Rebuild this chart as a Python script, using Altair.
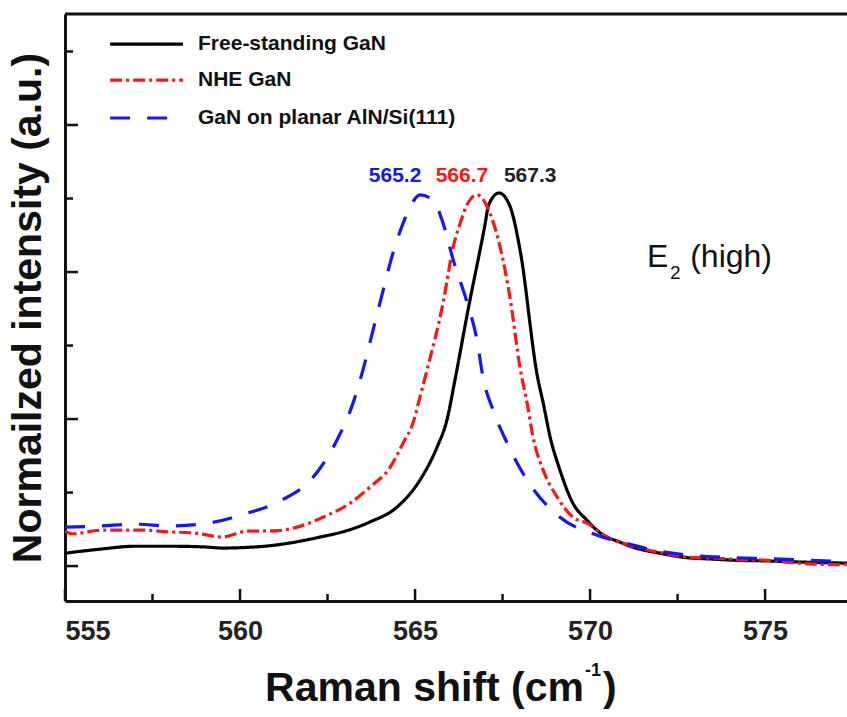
import altair as alt
import pandas as pd

# ---------------- data ----------------
series = ["Free-standing GaN", "NHE GaN", "GaN on planar AlN/Si(111)"]
colors = ["#000000", "#ff1414", "#1414ff"]
dashes = [[1, 0], [12, 4, 3, 4], [20, 17]]

x_free = [555, 556, 557, 558, 559, 559.5, 560, 561, 561.43, 562.29, 563, 563.71,
          564.49, 565.14, 565.63, 565.91, 566.14, 566.5, 567.0, 567.1, 567.4, 567.7,
          568.0, 568.5, 568.66, 568.86, 569.14, 569.51, 569.91, 570.29, 570.86,
          571.2, 572.0, 572.66, 573.5, 574.09, 575.06, 576.0, 577.34]
y_free = [0.035, 0.046, 0.054, 0.054, 0.052, 0.049, 0.050, 0.057, 0.063, 0.079, 0.095, 0.120,
          0.161, 0.234, 0.324, 0.397, 0.506, 0.690, 0.930, 0.982, 1.015, 0.982,
          0.860, 0.514, 0.444, 0.351, 0.261, 0.171, 0.125, 0.090, 0.065,
          0.052, 0.035, 0.024, 0.019, 0.016, 0.014, 0.011, 0.008]

x_nhe = [555, 555.2, 556.1, 557.1, 558.0, 558.7, 559.5, 560.2, 561.0, 561.63, 562.37,
         563.14, 563.71, 564.29, 564.66, 564.94, 565.14, 565.34, 565.8, 566.09, 566.29,
         566.51, 566.77, 567.14, 567.43, 567.71, 568.0, 568.2, 568.37, 568.66, 569.06,
         569.51, 569.91, 570.49, 571.2, 572.0, 572.7, 573.5, 574.2, 575.0, 575.7,
         576.3, 577.0, 577.34]
y_nhe = [0.095, 0.088, 0.098, 0.098, 0.093, 0.090, 0.079, 0.095, 0.096, 0.106, 0.133,
         0.171, 0.215, 0.269, 0.335, 0.389, 0.460, 0.533, 0.716, 0.868, 0.933,
         0.988, 1.010, 0.960, 0.868, 0.732, 0.539, 0.444, 0.351, 0.261, 0.188,
         0.133, 0.117, 0.079, 0.055, 0.037, 0.025, 0.022, 0.018, 0.016, 0.010,
         0.006, 0.004, 0.005]

x_planar = [555, 556, 557, 558, 559.1, 560.1, 561.14, 562.09, 562.77, 563.23, 563.51,
            563.8, 564.09, 564.37, 564.66, 564.86, 565.14, 565.51, 565.8, 566.09, 566.49,
            566.77, 566.94, 567.23, 567.63, 568.2, 569.14, 570.2, 571.2, 572.0, 572.8,
            573.6, 574.4, 575.2, 576.0, 576.7, 577.34]
y_planar = [0.106, 0.109, 0.114, 0.109, 0.117, 0.141, 0.177, 0.242, 0.343, 0.444, 0.533,
            0.642, 0.751, 0.852, 0.933, 0.977, 1.010, 0.996, 0.933, 0.833, 0.716,
            0.615, 0.514, 0.424, 0.335, 0.234, 0.133, 0.084, 0.058, 0.040, 0.030,
            0.025, 0.022, 0.020, 0.017, 0.014, 0.012]

peak_labels = ["565.2", "566.7", "567.3"]
peak_label_x = [564.43, 566.34, 568.29]
peak_label_y = [1.061, 1.061, 1.061]
peak_label_colors = ["#1414ff", "#ff1414", "#222222"]

x_major_ticks = [555, 560, 565, 570, 575]
x_minor_ticks = [557.5, 562.5, 567.5, 572.5]
y_major_ticks = [0.0, 0.4, 0.8, 1.2]
y_minor_ticks = [0.2, 0.6, 1.0, 1.4]

legend_y = [1.420, 1.322, 1.219]
legend_x1, legend_x2, legend_text_x = 556.29, 558.37, 558.80

x_title_parts = ["Raman shift (cm", "-1", ")"]
y_title = "Normailzed intensity (a.u.)"

# ---------------- tables ----------------
rows = []
for name, xs, ys in zip(series, [x_free, x_nhe, x_planar], [y_free, y_nhe, y_planar]):
    for xv, yv in zip(xs, ys):
        rows.append({"series": name, "x": xv, "y": yv})
df = pd.DataFrame(rows)

leg = pd.DataFrame({"series": series, "x": [legend_x1] * 3, "x2": [legend_x2] * 3, "y": legend_y})
leg_t = pd.DataFrame({"series": series, "x": [legend_text_x] * 3, "y": legend_y})
peaks = pd.DataFrame({"x": peak_label_x, "y": peak_label_y, "t": peak_labels, "c": peak_label_colors})

W, H = 782, 587
FONT = "Liberation Sans"
INK = "#111111"

xscale = alt.Scale(domain=[555, 577.34], nice=False, zero=False)
yscale = alt.Scale(domain=[-0.095, 1.502], nice=False, zero=False)
color = alt.Color("series:N", scale=alt.Scale(domain=series, range=colors), legend=None)
dash = alt.StrokeDash("series:N", scale=alt.Scale(domain=series, range=dashes), legend=None)

X = alt.X("x:Q", scale=xscale)
Y = alt.Y("y:Q", scale=yscale)

lines = alt.Chart(df).mark_line(strokeWidth=3.2, clip=True, interpolate="monotone").encode(
    x=alt.X("x:Q", scale=xscale,
            axis=alt.Axis(values=x_major_ticks, ticks=False, grid=False, format="d",
                          labelFontSize=27, labelFont=FONT, labelFontWeight="bold",
                          labelColor="#222222", labelPadding=17,
                          domainWidth=3, domainColor=INK, title=None)),
    y=alt.Y("y:Q", scale=yscale,
            axis=alt.Axis(labels=False, ticks=False, grid=False,
                          domainWidth=3, domainColor=INK,
                          title=y_title, titleFont=FONT, titleFontSize=41,
                          titleFontWeight="bold", titleColor=INK, titlePadding=16)),
    color=color,
    strokeDash=dash,
)

def tick_layer(vals, channel, length):
    if channel == "x":
        d = pd.DataFrame({"x": vals})
        return alt.Chart(d).mark_rule(color=INK, strokeWidth=2.5).encode(
            x=X, y=alt.value(H), y2=alt.value(H - length))
    d = pd.DataFrame({"y": vals})
    return alt.Chart(d).mark_rule(color=INK, strokeWidth=2.5).encode(
        y=Y, x=alt.value(0), x2=alt.value(length))

top_border = alt.Chart(pd.DataFrame({"a": [0]})).mark_rule(color=INK, strokeWidth=3).encode(
    x=alt.value(0), x2=alt.value(W), y=alt.value(0))

leg_lines = alt.Chart(leg).mark_rule(strokeWidth=3.2).encode(
    x=X, x2="x2:Q", y=Y, color=color, strokeDash=dash)
leg_text = alt.Chart(leg_t).mark_text(align="left", baseline="middle", font=FONT, fontSize=21,
                                      fontWeight="bold", color=INK).encode(
    x=X, y=Y, text="series:N")

peak_text = alt.Chart(peaks).mark_text(align="center", baseline="middle", font=FONT, fontSize=21,
                                       fontWeight="bold").encode(
    x=X, y=Y, text="t:N", color=alt.Color("c:N", scale=None))

e2 = pd.DataFrame({"x": [571.63, 572.28, 572.86], "y": [0.813, 0.782, 0.813],
                   "t": ["E", "2", "(high)"], "s": [32, 19, 32]})
e2_text = alt.Chart(e2).mark_text(align="left", baseline="alphabetic", font=FONT,
                                  color=INK).encode(
    x=X, y=Y, text="t:N", size=alt.Size("s:Q", scale=None, legend=None))

# x-axis title with a real superscript, placed below the axis
def title_part(text, px, py, size, align):
    return alt.Chart(pd.DataFrame({"t": [text]})).mark_text(
        align=align, baseline="alphabetic", font=FONT, fontSize=size, fontWeight="bold",
        color=INK).encode(text="t:N", x=alt.value(px), y=alt.value(py))

xt1 = title_part(x_title_parts[0], 519, 687, 41, "right")
xt2 = title_part(x_title_parts[1], 520, 662, 18, "left")
xt3 = title_part(x_title_parts[2], 538, 687, 41, "left")

chart = alt.layer(
    lines,
    tick_layer(x_major_ticks, "x", 12), tick_layer(x_minor_ticks, "x", 7),
    tick_layer(y_major_ticks, "y", 13), tick_layer(y_minor_ticks, "y", 8),
    top_border, leg_lines, leg_text, peak_text, e2_text, xt1, xt2, xt3,
).properties(
    width=W, height=H,
    autosize=alt.AutoSizeParams(type="none"),
    padding={"left": 65, "top": 14, "right": 0, "bottom": 116},
    background="white",
).configure_view(strokeWidth=0)

chart.save("out.html", embed_options={"renderer": "svg", "actions": False})
